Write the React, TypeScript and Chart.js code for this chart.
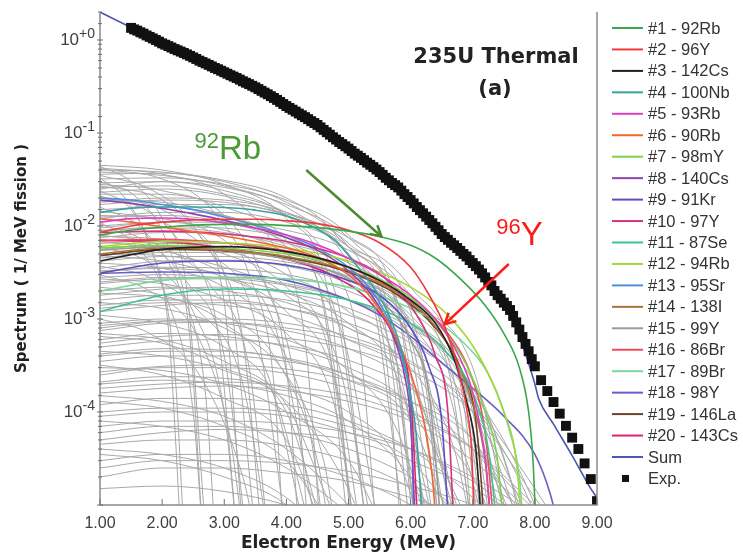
import React, { useEffect, useRef } from "react";
import { Chart, registerables } from "chart.js";
Chart.register(...registerables);

// ---------- axes ----------
const X_MIN = 1;
const X_MAX = 9;
const Y_MIN = 1e-5;
const Y_MAX = 2;
const xTickStep = 1;
const yTickValues = [1, 0.1, 0.01, 0.001, 0.0001];
const yTickExponents = ["+0", "-1", "-2", "-3", "-4"];

// ---------- legend labels / colours ----------
const isotopeLabels = [
  "#1 - 92Rb", "#2 - 96Y", "#3 - 142Cs", "#4 - 100Nb", "#5 - 93Rb",
  "#6 - 90Rb", "#7 - 98mY", "#8 - 140Cs", "#9 - 91Kr", "#10 - 97Y",
  "#11 - 87Se", "#12 - 94Rb", "#13 - 95Sr", "#14 - 138I", "#15 - 99Y",
  "#16 - 86Br", "#17 - 89Br", "#18 - 98Y", "#19 - 146La", "#20 - 143Cs",
];
const isotopeColors = [
  "#3aa84a", "#f0393f", "#231f20", "#3aa0a0", "#e040c0",
  "#f26531", "#7dd34a", "#8e44ad", "#5b4fc4", "#d6337a",
  "#3cc48c", "#a5d63a", "#4f8fe0", "#a6743a", "#9a9a9a",
  "#f24a5a", "#7ad89a", "#6a5fc8", "#6b4226", "#e0206e",
];
const sumColor = "#4a58b0";
const expColor = "#111111";
const grayColor = "#a8a8a8";

// ---------- isotope spectra (energy MeV, spectrum) ----------
const e92Rb = [1, 1.5, 2, 2.5, 3, 3.5, 4, 4.5, 5, 5.5, 6, 6.4, 6.8, 7.2, 7.5, 7.75, 7.9, 7.97, 8.02];
const s92Rb = [0.008, 0.009, 0.0097, 0.0102, 0.0104, 0.0104, 0.0101, 0.0096, 0.0088, 0.0077, 0.0062, 0.0045, 0.0027, 0.0014, 0.0007, 0.0003, 0.0001, 3e-5, 5e-6];
const e96Y = [1, 1.5, 2, 2.5, 3, 3.5, 4, 4.5, 5, 5.5, 6, 6.3, 6.55, 6.75, 6.9, 6.98, 7.03];
const s96Y = [0.0085, 0.01, 0.011, 0.0116, 0.0118, 0.0118, 0.0114, 0.0106, 0.009, 0.0066, 0.0036, 0.0018, 0.00083, 0.00032, 0.00011, 4e-5, 5e-6];
const e142Cs = [1, 2, 3, 4, 4.8, 5.5, 6, 6.4, 6.7, 6.9, 7.05, 7.15];
const s142Cs = [0.0042, 0.0056, 0.006, 0.0053, 0.004, 0.0026, 0.0016, 0.0009, 0.00037, 0.00013, 4e-5, 5e-6];
const e100Nb = [1, 1.5, 2, 2.5, 3, 3.5, 4, 4.4, 4.8, 5.1, 5.4, 5.6, 5.85, 6.0, 6.1, 6.2];
const s100Nb = [0.014, 0.0155, 0.016, 0.016, 0.0158, 0.0148, 0.0128, 0.01, 0.0068, 0.004, 0.0022, 0.0013, 0.00047, 0.00015, 5e-5, 5e-6];
const e93Rb = [1, 1.5, 2, 2.5, 3, 3.5, 4, 4.5, 5, 5.5, 6, 6.4, 6.7, 6.95, 7.1, 7.22, 7.3];
const s93Rb = [0.011, 0.012, 0.0122, 0.0118, 0.0108, 0.0095, 0.008, 0.0063, 0.0045, 0.003, 0.0018, 0.001, 0.0005, 0.00021, 8e-5, 2.5e-5, 5e-6];
const e90Rb = [1, 1.5, 2, 2.5, 3, 3.5, 4, 4.5, 5, 5.3, 5.6, 5.9, 6.1, 6.25, 6.35, 6.42];
const s90Rb = [0.012, 0.011, 0.0098, 0.0087, 0.0078, 0.0068, 0.0058, 0.0046, 0.003, 0.0019, 0.001, 0.0004, 0.00016, 6e-5, 2e-5, 5e-6];
const e98mY = [1, 2, 3, 4, 5, 5.5, 6, 6.5, 6.9, 7.2, 7.4, 7.5];
const s98mY = [0.0058, 0.0062, 0.0058, 0.005, 0.0036, 0.0027, 0.0017, 0.0008, 0.00032, 0.0001, 3e-5, 5e-6];
const e140Cs = [1, 1.5, 2, 2.5, 3, 3.5, 4, 4.5, 5, 5.4, 5.7, 5.9, 6.0, 6.08];
const s140Cs = [0.019, 0.0175, 0.0155, 0.0135, 0.0115, 0.0095, 0.0075, 0.0055, 0.0033, 0.0017, 0.0007, 0.00025, 8e-5, 5e-6];
const e91Kr = [1, 2, 3, 4, 5, 5.5, 6, 6.3, 6.5, 6.62];
const s91Kr = [0.0031, 0.004, 0.0042, 0.0038, 0.0026, 0.0018, 0.0008, 0.0003, 8e-5, 5e-6];
const e97Y = [1, 2, 3, 4, 5, 5.6, 6.1, 6.4, 6.6, 6.7];
const s97Y = [0.0085, 0.0088, 0.0082, 0.0068, 0.0045, 0.0027, 0.0011, 0.0004, 0.0001, 5e-6];
const e87Se = [1, 2, 3, 4, 5, 6, 6.5, 7, 7.25, 7.4];
const s87Se = [0.0012, 0.0018, 0.0021, 0.002, 0.0016, 0.0009, 0.0005, 0.00016, 4e-5, 5e-6];
const e94Rb = [1, 2, 3, 4, 5, 6, 6.6, 7.1, 7.5, 7.7, 7.8];
const s94Rb = [0.006, 0.0068, 0.0066, 0.0058, 0.0042, 0.0022, 0.0011, 0.0004, 0.0001, 3e-5, 5e-6];
const e95Sr = [1, 1.5, 2, 2.5, 3, 3.5, 4, 4.5, 5, 5.4, 5.7, 5.9, 6.0, 6.06];
const s95Sr = [0.02, 0.019, 0.017, 0.015, 0.0125, 0.0102, 0.008, 0.0058, 0.0036, 0.0019, 0.0008, 0.0003, 0.0001, 5e-6];
const e138I = [1, 2, 3, 4, 5, 5.8, 6.3, 6.7, 7.0, 7.2, 7.3];
const s138I = [0.005, 0.0058, 0.0055, 0.0047, 0.0033, 0.0019, 0.001, 0.0004, 0.00012, 3e-5, 5e-6];
const e99Y = [1, 2, 3, 4, 5, 5.6, 6.0, 6.3, 6.5];
const s99Y = [0.0055, 0.006, 0.0055, 0.0044, 0.0027, 0.0014, 0.0006, 0.00015, 5e-6];
const e86Br = [1, 2, 3, 4, 5, 6, 6.6, 7.0, 7.2, 7.35];
const s86Br = [0.007, 0.0072, 0.0066, 0.0054, 0.0036, 0.0016, 0.0007, 0.00022, 6e-5, 5e-6];
const e89Br = [1, 2, 3, 4, 5, 6, 6.8, 7.3, 7.6, 7.75, 7.82];
const s89Br = [0.002, 0.0026, 0.0028, 0.0027, 0.0022, 0.0013, 0.0006, 0.00022, 6e-5, 2e-5, 5e-6];
const e98Y = [1, 2, 3, 4, 5, 5.5, 6, 6.5, 7, 7.5, 8, 8.25, 8.4];
const s98Y = [0.0031, 0.0032, 0.0031, 0.0026, 0.0016, 0.0011, 0.00065, 0.00034, 0.00018, 9e-5, 3.5e-5, 1.3e-5, 5e-6];
const e146La = [1, 2, 3, 4, 5, 5.8, 6.4, 6.8, 7.05, 7.2];
const s146La = [0.0048, 0.0056, 0.0054, 0.0046, 0.0032, 0.0018, 0.0008, 0.0003, 8e-5, 5e-6];
const e143Cs = [1, 2, 3, 4, 4.8, 5.4, 5.8, 6.0, 6.12];
const s143Cs = [0.007, 0.0068, 0.0058, 0.0044, 0.0028, 0.0014, 0.0005, 0.00015, 5e-6];

const isotopeEnergies = [e92Rb, e96Y, e142Cs, e100Nb, e93Rb, e90Rb, e98mY, e140Cs, e91Kr, e97Y, e87Se, e94Rb, e95Sr, e138I, e99Y, e86Br, e89Br, e98Y, e146La, e143Cs];
const isotopeSpectra = [s92Rb, s96Y, s142Cs, s100Nb, s93Rb, s90Rb, s98mY, s140Cs, s91Kr, s97Y, s87Se, s94Rb, s95Sr, s138I, s99Y, s86Br, s89Br, s98Y, s146La, s143Cs];

// ---------- sum ----------
const sumE = [1, 1.5, 2, 2.5, 3, 3.5, 4, 4.5, 5, 5.5, 6, 6.5, 7, 7.5, 7.8, 8.0, 8.06, 8.3, 8.6, 8.9, 9.0];
const sumS = [2.0, 1.36, 0.92, 0.65, 0.45, 0.31, 0.195, 0.122, 0.068, 0.038, 0.019, 0.0082, 0.004, 0.0015, 0.00052, 0.0002, 0.00014, 7.4e-5, 3.4e-5, 1.5e-5, 1.2e-5];

// ---------- experiment ----------
const expE = [
  1.5, 1.55, 1.6, 1.65, 1.7, 1.75, 1.8, 1.85, 1.9, 1.95, 2.0, 2.05, 2.1, 2.15, 2.2, 2.25, 2.3, 2.35, 2.4, 2.45,
  2.5, 2.55, 2.6, 2.65, 2.7, 2.75, 2.8, 2.85, 2.9, 2.95, 3.0, 3.05, 3.1, 3.15, 3.2, 3.25, 3.3, 3.35, 3.4, 3.45,
  3.5, 3.55, 3.6, 3.65, 3.7, 3.75, 3.8, 3.85, 3.9, 3.95, 4.0, 4.05, 4.1, 4.15, 4.2, 4.25, 4.3, 4.35, 4.4, 4.45,
  4.5, 4.55, 4.6, 4.65, 4.7, 4.75, 4.8, 4.85, 4.9, 4.95, 5.0, 5.05, 5.1, 5.15, 5.2, 5.25, 5.3, 5.35, 5.4, 5.45,
  5.5, 5.55, 5.6, 5.65, 5.7, 5.75, 5.8, 5.85, 5.9, 5.95, 6.0, 6.05, 6.1, 6.15, 6.2, 6.25, 6.3, 6.35, 6.4, 6.45,
  6.5, 6.55, 6.6, 6.65, 6.7, 6.75, 6.8, 6.85, 6.9, 6.95, 7.0, 7.05, 7.1, 7.15, 7.2, 7.25, 7.3, 7.35, 7.4, 7.45,
  7.5, 7.55, 7.6, 7.65, 7.7, 7.75, 7.8, 7.85, 7.9, 7.95, 8.0,
  8.1, 8.2, 8.3, 8.4, 8.5, 8.6, 8.7, 8.8, 8.9, 9.0,
];
const expS = [
  1.35, 1.30, 1.26, 1.21, 1.17, 1.12, 1.08, 1.04, 1.0, 0.96, 0.92, 0.89, 0.86, 0.83, 0.80, 0.775, 0.75, 0.725, 0.70, 0.675,
  0.65, 0.625, 0.60, 0.58, 0.56, 0.54, 0.52, 0.50, 0.485, 0.467, 0.45, 0.434, 0.418, 0.404, 0.39, 0.375, 0.36, 0.347, 0.335, 0.322,
  0.31, 0.297, 0.284, 0.272, 0.261, 0.249, 0.238, 0.227, 0.216, 0.205, 0.195, 0.186, 0.178, 0.170, 0.162, 0.155, 0.148, 0.141, 0.134, 0.128,
  0.122, 0.115, 0.108, 0.102, 0.096, 0.090, 0.085, 0.080, 0.076, 0.072, 0.068, 0.064, 0.060, 0.057, 0.054, 0.051, 0.048, 0.0455, 0.043, 0.0405,
  0.038, 0.0355, 0.033, 0.031, 0.029, 0.0275, 0.026, 0.024, 0.022, 0.0205, 0.019, 0.0175, 0.016, 0.0148, 0.0137, 0.0126, 0.0116, 0.0107, 0.0098, 0.009,
  0.0082, 0.0076, 0.0071, 0.0066, 0.0062, 0.0058, 0.0054, 0.005, 0.0047, 0.0043, 0.004, 0.0037, 0.0034, 0.0031, 0.0028, 0.0025, 0.0023, 0.002, 0.0018, 0.00165,
  0.0015, 0.00138, 0.00125, 0.00108, 0.00092, 0.00077, 0.00064, 0.00054, 0.00045, 0.00037, 0.00031,
  0.00022, 0.000168, 0.000128, 0.000096, 0.000071, 0.000053, 0.00004, 0.000028, 0.000019, 0.000011,
];

// ---------- other fission products (grey) : [energy, spectrum] ----------
const grayCurves: number[][][] = [
  [[1, .045], [2, .040], [3, .028], [4, .012], [4.7, .0015], [5.05, 5e-6]],
  [[1, .042], [2, .036], [3, .022], [3.8, .006], [4.3, .0006], [4.55, 5e-6]],
  [[1, .038], [2, .035], [3, .027], [4, .016], [5, .004], [5.6, .0004], [5.85, 5e-6]],
  [[1, .035], [1.8, .025], [2.5, .010], [3.0, .0015], [3.3, 5e-6]],
  [[1, .032], [2, .033], [3, .028], [4, .019], [5, .008], [5.8, .0012], [6.25, 5e-6]],
  [[1, .030], [1.6, .020], [2.1, .006], [2.45, .0006], [2.65, 5e-6]],
  [[1, .028], [2, .024], [3, .013], [3.6, .003], [4.0, .0003], [4.2, 5e-6]],
  [[1, .026], [2, .027], [3, .022], [4, .014], [5, .005], [5.6, .0008], [6.0, 5e-6]],
  [[1, .024], [1.5, .015], [1.9, .004], [2.2, .0003], [2.35, 5e-6]],
  [[1, .022], [2, .022], [3, .016], [4, .007], [4.6, .0013], [5.0, 5e-6]],
  [[1, .020], [2, .015], [2.8, .005], [3.3, .0006], [3.6, 5e-6]],
  [[1, .018], [2, .020], [3, .019], [4, .014], [5, .0065], [5.8, .0012], [6.4, 5e-6]],
  [[1, .016], [1.7, .009], [2.3, .002], [2.7, .00015], [2.85, 5e-6]],
  [[1, .015], [2, .016], [3, .013], [4, .0075], [4.8, .0018], [5.3, 5e-6]],
  [[1, .013], [2, .012], [3, .007], [3.7, .002], [4.2, .0001], [4.35, 5e-6]],
  [[1, .012], [2, .014], [3, .014], [4, .011], [5, .006], [6, .0012], [6.7, 5e-6]],
  [[1, .011], [1.6, .006], [2.1, .0015], [2.5, .0001], [2.65, 5e-6]],
  [[1, .010], [2, .011], [3, .009], [4, .005], [4.8, .0011], [5.3, 5e-6]],
  [[1, .009], [2, .0095], [3, .0085], [4, .006], [5, .003], [6, .0006], [6.6, 5e-6]],
  [[1, .008], [2, .006], [2.8, .0022], [3.4, .0003], [3.7, 5e-6]],
  [[1, .0075], [2, .0085], [3, .0082], [4, .0065], [5, .004], [6, .0013], [6.8, .0001], [7.0, 5e-6]],
  [[1, .007], [2, .0068], [3, .005], [4, .0022], [4.7, .0004], [5.1, 5e-6]],
  [[1, .006], [1.8, .004], [2.5, .0012], [3.0, .0001], [3.2, 5e-6]],
  [[1, .0055], [2, .0065], [3, .0065], [4, .0052], [5, .003], [6, .0009], [6.7, .0001], [7.0, 5e-6]],
  [[1, .005], [2, .0048], [3, .0036], [4, .0018], [4.8, .0004], [5.4, 5e-6]],
  [[1, .0045], [2, .0052], [3, .0052], [4, .0044], [5, .0028], [6, .001], [7, .0001], [7.3, 5e-6]],
  [[1, .004], [2, .0035], [3, .0022], [3.8, .0007], [4.4, .00005], [4.6, 5e-6]],
  [[1, .0035], [2, .0042], [3, .0043], [4, .0037], [5, .0024], [6, .0009], [7, .00012], [7.5, 5e-6]],
  [[1, .003], [1.8, .002], [2.6, .0006], [3.1, .00005], [3.3, 5e-6]],
  [[1, .0028], [2, .003], [3, .0027], [4, .0019], [5, .0009], [5.8, .00022], [6.4, 5e-6]],
  [[1, .0025], [2, .0028], [3, .0028], [4, .0024], [5, .0016], [6, .0007], [7, .00012], [7.6, 5e-6]],
  [[1, .0022], [2, .0018], [3, .0009], [3.7, .00025], [4.3, 5e-6]],
  [[1, .002], [2, .0022], [3, .002], [4, .0015], [5, .0008], [6, .00024], [6.8, 5e-6]],
  [[1, .0018], [2, .0021], [3, .0022], [4, .0019], [5, .0013], [6, .0006], [7, .00013], [7.8, 5e-6]],
  [[1, .0015], [2, .0013], [3, .0008], [4, .00025], [4.6, .00003], [4.8, 5e-6]],
  [[1, .0013], [2, .0015], [3, .0014], [4, .0011], [5, .0006], [6, .0002], [6.9, 5e-6]],
  [[1, .0012], [2, .0014], [3, .0015], [4, .0013], [5, .0009], [6, .00045], [7, .00012], [8, .000008], [8.1, 5e-6]],
  [[1, .001], [1.8, .0007], [2.6, .00025], [3.3, .00002], [3.5, 5e-6]],
  [[1, .0009], [2, .001], [3, .0009], [4, .0006], [5, .00028], [5.8, .00006], [6.3, 5e-6]],
  [[1, .0008], [2, .00095], [3, .001], [4, .0009], [5, .00065], [6, .00035], [7, .0001], [7.8, .00001], [8.0, 5e-6]],
  [[1, .0007], [2, .0006], [3, .00035], [4, .00012], [4.7, .00001], [4.9, 5e-6]],
  [[1, .0006], [2, .0007], [3, .00065], [4, .0005], [5, .0003], [6, .00011], [6.8, .00001], [7.0, 5e-6]],
  [[1, .0005], [2, .00058], [3, .0006], [4, .00052], [5, .00036], [6, .00018], [7, .00005], [7.6, .000008], [7.7, 5e-6]],
  [[1, .00045], [2, .0004], [3, .00028], [4, .00013], [4.9, .00002], [5.3, 5e-6]],
  [[1, .0004], [2, .00045], [3, .00045], [4, .00038], [5, .00025], [6, .00011], [7, .00002], [7.4, 5e-6]],
  [[1, .00035], [2, .0004], [3, .0004], [4, .00035], [5, .00025], [6, .00013], [7, .00004], [8, .000006], [8.3, 5e-6]],
  [[1, .0003], [2, .00028], [3, .0002], [4, .0001], [5, .00003], [5.6, 5e-6]],
  [[1, .00025], [2, .0003], [3, .0003], [4, .00026], [5, .00018], [6, .0001], [7, .00004], [8, .000009], [8.6, 5e-6]],
  [[1, .0002], [2, .00022], [3, .0002], [4, .00015], [5, .00008], [6, .00002], [6.5, 5e-6]],
  [[1, .00018], [2, .0002], [3, .00021], [4, .00019], [5, .00015], [6, .00009], [7, .00004], [8, .00001], [8.5, 5e-6]],
  [[1, .00015], [2, .00013], [3, .00009], [4, .00004], [5, .00001], [5.4, 5e-6]],
  [[1, .00012], [2, .00014], [3, .00014], [4, .00012], [5, .00008], [6, .00004], [7, .000012], [7.6, 5e-6]],
  [[1, .0001], [2, .00011], [3, .00011], [4, .0001], [5, .00007], [6, .00004], [7, .000018], [8, .000006], [8.3, 5e-6]],
  [[1, .00008], [2, .00007], [3, .00005], [4, .000025], [5, .000008], [5.3, 5e-6]],
  [[1, .00006], [2, .00007], [3, .00007], [4, .00006], [5, .00004], [6, .00002], [7, .000007], [7.3, 5e-6]],
  [[1, .00005], [2, .00006], [3, .000065], [4, .00006], [5, .00005], [6, .00003], [7, .000015], [8, .000006], [8.2, 5e-6]],
  [[1, .00004], [2, .000035], [3, .000025], [4, .000012], [4.6, 5e-6]],
  [[1, .00003], [2, .000035], [3, .000035], [4, .00003], [5, .00002], [6, .00001], [6.6, 5e-6]],
  [[1, .00002], [2, .000025], [3, .000025], [4, .000022], [5, .000018], [6, .000012], [7, .000007], [7.7, 5e-6]],
  [[1, .000015], [2, .000016], [3, .000014], [4, .00001], [5, .000006], [5.3, 5e-6]],
  [[1, .0065], [2, .007], [3, .0066], [4, .0052], [5, .0031], [6, .0011], [6.6, .0003], [7.0, .00004], [7.15, 5e-6]],
  [[1, .0032], [2, .0036], [3, .0035], [4, .003], [5, .002], [6, .0009], [7, .00018], [7.6, .00002], [7.8, 5e-6]],
  [[1, .0016], [2, .0018], [3, .0018], [4, .0016], [5, .0011], [6, .00055], [7, .00016], [8, .00001], [8.15, 5e-6]],
  [[1, .00075], [2, .0009], [3, .00092], [4, .0008], [5, .0006], [6, .00033], [7, .00012], [8, .000015], [8.45, 5e-6]],
  [[1, .025], [2, .03], [3, .026], [4, .017], [5, .0075], [5.8, .0015], [6.3, .0001], [6.45, 5e-6]],
  [[1, .04], [2, .038], [3, .03], [4, .018], [5, .006], [5.7, .0008], [6.05, 5e-6]],
  [[1, .014], [2, .017], [3, .017], [4, .0135], [5, .0075], [6, .0022], [6.8, .0002], [7.1, 5e-6]],
  [[1, .0095], [2, .011], [3, .011], [4, .009], [5, .0055], [6, .0018], [6.9, .00015], [7.2, 5e-6]],
  [[1, .044], [1.5, .03], [2, .012], [2.4, .002], [2.7, 5e-6]],
  [[1, .041], [2, .032], [2.8, .015], [3.4, .003], [3.8, .0002], [3.95, 5e-6]],
  [[1, .036], [2, .037], [3, .031], [4, .02], [4.8, .008], [5.4, .0015], [5.9, 5e-6]],
  [[1, .033], [1.4, .02], [1.8, .006], [2.1, .0008], [2.3, 5e-6]],
  [[1, .029], [2, .03], [3, .024], [4, .013], [4.7, .004], [5.2, .0004], [5.45, 5e-6]],
  [[1, .027], [2, .019], [2.6, .008], [3.1, .0015], [3.5, 5e-6]],
  [[1, .023], [2, .025], [3, .021], [4, .013], [5, .005], [5.7, .0007], [6.1, 5e-6]],
  [[1, .021], [1.8, .014], [2.4, .005], [2.9, .0007], [3.2, 5e-6]],
  [[1, .019], [2, .018], [3, .013], [4, .006], [4.6, .0015], [5.1, 5e-6]],
  [[1, .017], [2, .019], [3, .018], [4, .013], [5, .006], [5.9, .0009], [6.5, 5e-6]],
  [[1, .0145], [2, .011], [2.8, .005], [3.5, .0009], [4.0, 5e-6]],
  [[1, .0125], [2, .013], [3, .011], [4, .0068], [5, .0025], [5.7, .0004], [6.1, 5e-6]],
  [[1, .0105], [1.7, .007], [2.4, .0025], [3, .0004], [3.35, 5e-6]],
  [[1, .0088], [2, .0098], [3, .0095], [4, .0075], [5, .0045], [6, .0015], [6.6, .0003], [7.0, 5e-6]],
  [[1, .0078], [2, .0072], [3, .0055], [4, .003], [4.9, .0007], [5.5, 5e-6]],
  [[1, .0068], [2, .0055], [3, .003], [3.8, .0009], [4.5, 5e-6]],
  [[1, .0058], [2, .0062], [3, .0057], [4, .0044], [5, .0026], [6, .0009], [6.8, 5e-6]],
  [[1, .0048], [2, .0042], [3, .0028], [4, .0012], [4.8, .0002], [5.2, 5e-6]],
  [[1, .0042], [2, .0047], [3, .0047], [4, .0041], [5, .0029], [6, .0014], [7, .0003], [7.6, 5e-6]],
  [[1, .0037], [1.8, .0028], [2.6, .0012], [3.3, .0002], [3.7, 5e-6]],
  [[1, .0033], [2, .0035], [3, .0031], [4, .0023], [5, .0012], [5.8, .0003], [6.3, 5e-6]],
  [[1, .0027], [2, .0024], [3, .0016], [4, .0007], [4.8, .0001], [5.1, 5e-6]],
  [[1, .0024], [2, .0027], [3, .0027], [4, .0023], [5, .0016], [6, .0008], [7, .00022], [7.9, 5e-6]],
  [[1, .0019], [2, .0017], [3, .0011], [3.8, .0004], [4.5, .00003], [4.7, 5e-6]],
  [[1, .0014], [2, .0016], [3, .0016], [4, .0013], [5, .0008], [6, .0003], [6.7, .00004], [7.0, 5e-6]],
  [[1, .0011], [2, .0009], [3, .0005], [3.8, .00015], [4.4, 5e-6]],
  [[1, .00085], [2, .00095], [3, .00092], [4, .00075], [5, .00048], [6, .0002], [6.9, .00003], [7.2, 5e-6]],
  [[1, .00065], [2, .00055], [3, .0003], [4, .0001], [4.6, 5e-6]],
  [[1, .00055], [2, .00065], [3, .00068], [4, .00062], [5, .00048], [6, .00028], [7, .0001], [8, .000012], [8.4, 5e-6]],
  [[1, .00042], [2, .00048], [3, .00046], [4, .00037], [5, .00022], [6, .00008], [6.7, 5e-6]],
  [[1, .00032], [2, .00025], [3, .00014], [4, .00005], [4.6, 5e-6]],
  [[1, .00027], [2, .00031], [3, .00032], [4, .00029], [5, .00022], [6, .00013], [7, .00005], [7.9, 5e-6]],
  [[1, .00021], [2, .00024], [3, .00023], [4, .00018], [5, .0001], [5.8, .00003], [6.2, 5e-6]],
  [[1, .00016], [2, .00018], [3, .00019], [4, .00017], [5, .00013], [6, .00008], [7, .00003], [8, .000008], [8.55, 5e-6]],
  [[1, .00013], [2, .00011], [3, .00007], [4, .00003], [4.8, 5e-6]],
  [[1, .00009], [2, .0001], [3, .0001], [4, .00009], [5, .00006], [6, .00003], [6.9, 5e-6]],
  [[1, .00007], [2, .00008], [3, .00008], [4, .000075], [5, .00006], [6, .00004], [7, .00002], [8, .000008], [8.6, 5e-6]],
  [[1, .000045], [2, .00005], [3, .00005], [4, .000043], [5, .00003], [6, .000015], [6.8, 5e-6]],
  [[1, .000035], [2, .00003], [3, .00002], [4, .00001], [4.4, 5e-6]],
  [[1, .000025], [2, .00003], [3, .00003], [4, .000028], [5, .000023], [6, .000016], [7, .00001], [7.9, 5e-6]],
];

// ---------- annotations (data coordinates) ----------
const rbArrow = { from: [4.32, 0.040], to: [5.53, 0.0077], color: "#4a8a30" };
const yArrow = { from: [7.58, 0.0039], to: [6.55, 0.00088], color: "#ff1a1a" };
const rbLabel = { x: 2.52, y: 0.052, sup: "92", main: "Rb", color: "#4a9a36" };
const yLabel = { x: 7.38, y: 0.0062, sup: "96", main: "Y", color: "#ff1a1a" };

const titleLines = ["235U Thermal", "(a)"];
const xTitle = "Electron Energy (MeV)";
const yTitle = "Spectrum ( 1/ MeV fission )";

const SANS = "'Liberation Sans', Arial, sans-serif";
const BOLD = "'DejaVu Sans', Verdana, sans-serif";

function pts(xs: number[], ys: number[]) {
  return xs.map((x, i) => ({ x, y: ys[i] }));
}

const decorPlugin = {
  id: "decor",
  afterDraw(chart: any) {
    const ctx = chart.ctx as CanvasRenderingContext2D;
    const { left, right, top, bottom } = chart.chartArea;
    const xs = chart.scales.x;
    const ys = chart.scales.y;
    ctx.save();

    // axis lines
    ctx.strokeStyle = "#8a8a8a";
    ctx.lineWidth = 1.5;
    ctx.beginPath();
    ctx.moveTo(left, top);
    ctx.lineTo(left, bottom);
    ctx.lineTo(right, bottom);
    ctx.lineTo(right, top);
    ctx.stroke();

    // y ticks (library generated)
    ctx.lineWidth = 1;
    ctx.strokeStyle = "#707070";
    ys.ticks.forEach((t: any) => {
      const py = ys.getPixelForValue(t.value);
      const major = Math.abs(Math.log10(t.value) - Math.round(Math.log10(t.value))) < 1e-9;
      ctx.beginPath();
      ctx.moveTo(left - (major ? 3 : 2), py);
      ctx.lineTo(left + (major ? 3 : 2), py);
      ctx.stroke();
    });
    // x ticks
    xs.ticks.forEach((t: any) => {
      const px = xs.getPixelForValue(t.value);
      ctx.beginPath();
      ctx.moveTo(px, bottom);
      ctx.lineTo(px, bottom - 6);
      ctx.stroke();
    });

    // y tick labels with superscripts
    ctx.fillStyle = "#404040";
    ctx.textBaseline = "alphabetic";
    yTickValues.forEach((v, i) => {
      const py = ys.getPixelForValue(v);
      ctx.font = `14px ${SANS}`;
      const supW = ctx.measureText(yTickExponents[i]).width;
      ctx.font = `17px ${SANS}`;
      const baseW = ctx.measureText("10").width;
      const xEnd = left - 5;
      ctx.textAlign = "left";
      ctx.fillText("10", xEnd - supW - baseW, py + 5);
      ctx.font = `14px ${SANS}`;
      ctx.fillText(yTickExponents[i], xEnd - supW, py - 2);
    });

    // axis titles
    ctx.fillStyle = "#222";
    ctx.font = `bold 17px ${BOLD}`;
    ctx.textAlign = "center";
    ctx.textBaseline = "alphabetic";
    ctx.fillText(xTitle, (left + right) / 2, 548);
    ctx.save();
    ctx.translate(26, (top + bottom) / 2);
    ctx.rotate(-Math.PI / 2);
    ctx.font = `bold 15px ${BOLD}`;
    ctx.fillText(yTitle, 0, 0);
    ctx.restore();

    // chart title
    ctx.font = `bold 21px ${BOLD}`;
    ctx.fillStyle = "#222";
    ctx.fillText(titleLines[0], 496, 63);
    ctx.fillText(titleLines[1], 495, 95);

    // annotations
    const drawArrow = (a: any) => {
      const x1 = xs.getPixelForValue(a.from[0]);
      const y1 = ys.getPixelForValue(a.from[1]);
      const x2 = xs.getPixelForValue(a.to[0]);
      const y2 = ys.getPixelForValue(a.to[1]);
      const ang = Math.atan2(y2 - y1, x2 - x1);
      ctx.strokeStyle = a.color;
      ctx.lineWidth = 2.5;
      ctx.beginPath();
      ctx.moveTo(x1, y1);
      ctx.lineTo(x2, y2);
      ctx.stroke();
      ctx.beginPath();
      ctx.moveTo(x2 - 12 * Math.cos(ang - 0.5), y2 - 12 * Math.sin(ang - 0.5));
      ctx.lineTo(x2, y2);
      ctx.lineTo(x2 - 12 * Math.cos(ang + 0.5), y2 - 12 * Math.sin(ang + 0.5));
      ctx.stroke();
    };
    drawArrow(rbArrow);
    drawArrow(yArrow);
    const drawLabel = (l: any) => {
      const px = xs.getPixelForValue(l.x);
      const py = ys.getPixelForValue(l.y);
      ctx.fillStyle = l.color;
      ctx.textAlign = "left";
      ctx.font = `22px ${SANS}`;
      ctx.fillText(l.sup, px, py - 11);
      const w = ctx.measureText(l.sup).width;
      ctx.font = `33px ${SANS}`;
      ctx.fillText(l.main, px + w, py);
    };
    drawLabel(rbLabel);
    drawLabel(yLabel);

    // legend
    const legendLabels = [...isotopeLabels, "Sum", "Exp."];
    const legendColors = [...isotopeColors, sumColor, expColor];
    ctx.font = `16.5px ${SANS}`;
    ctx.textBaseline = "middle";
    legendLabels.forEach((lab, i) => {
      const cy = 28 + i * 21.45;
      if (lab === "Exp.") {
        ctx.fillStyle = expColor;
        ctx.fillRect(622, cy - 3.5, 7, 7);
      } else {
        ctx.strokeStyle = legendColors[i];
        ctx.lineWidth = 2;
        ctx.beginPath();
        ctx.moveTo(612, cy);
        ctx.lineTo(643, cy);
        ctx.stroke();
      }
      ctx.fillStyle = "#333";
      ctx.textAlign = "left";
      ctx.fillText(lab, 648, cy + 1);
    });

    ctx.restore();
  },
};

export default function App() {
  const ref = useRef<HTMLCanvasElement>(null);
  useEffect(() => {
    const canvas = ref.current;
    if (!canvas) return;
    const datasets: any[] = [];
    grayCurves.forEach((c, i) => {
      datasets.push({
        label: "other " + i,
        data: c.map((p) => ({ x: p[0], y: p[1] })),
        borderColor: grayColor,
        borderWidth: 1,
        pointRadius: 0,
        fill: false,
        cubicInterpolationMode: "monotone",
        order: 3,
      });
    });
    isotopeLabels.forEach((lab, i) => {
      datasets.push({
        label: lab,
        data: pts(isotopeEnergies[i], isotopeSpectra[i]),
        borderColor: isotopeColors[i],
        borderWidth: 1.6,
        pointRadius: 0,
        fill: false,
        cubicInterpolationMode: "monotone",
        order: 2,
      });
    });
    datasets.push({
      label: "Sum",
      data: pts(sumE, sumS),
      borderColor: sumColor,
      borderWidth: 1.6,
      pointRadius: 0,
      fill: false,
      cubicInterpolationMode: "monotone",
      order: 1,
    });
    datasets.push({
      label: "Exp.",
      data: pts(expE, expS),
      showLine: false,
      pointStyle: "rect",
      pointRadius: 7,
      backgroundColor: expColor,
      borderColor: expColor,
      borderWidth: 0,
      order: 0,
    });

    const chart = new Chart(canvas, {
      type: "line",
      data: { datasets },
      options: {
        animation: false,
        responsive: false,
        devicePixelRatio: 1,
        layout: { padding: { left: 0, top: 12, right: 146, bottom: 0 } },
        plugins: { legend: { display: false }, tooltip: { enabled: false }, title: { display: false } },
        scales: {
          x: {
            type: "linear",
            min: X_MIN,
            max: X_MAX,
            grid: { display: false, drawTicks: false },
            border: { display: false },
            ticks: {
              stepSize: xTickStep,
              padding: 9,
              color: "#404040",
              font: { family: SANS, size: 16 },
              maxRotation: 0,
              callback: (v: any) => Number(v).toFixed(2),
            },
            afterFit: (s: any) => { s.height = 47; },
          },
          y: {
            type: "logarithmic",
            min: Y_MIN,
            max: Y_MAX,
            grid: { display: false, drawTicks: false },
            border: { display: false },
            ticks: { display: false },
            afterFit: (s: any) => { s.width = 100; },
          },
        },
      } as any,
      plugins: [decorPlugin],
    });
    return () => chart.destroy();
  }, []);
  return (
    <div style={{ position: "absolute", left: 0, top: 0, width: 743, height: 552, background: "#fff" }}>
      <canvas ref={ref} width={743} height={552} style={{ display: "block", width: 743, height: 552 }} />
    </div>
  );
}
